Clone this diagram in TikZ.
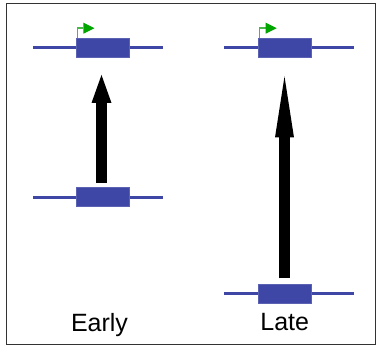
\documentclass[tikz,border=0pt]{standalone}
\usepackage{fontspec}
\setmainfont{Liberation Sans}
\usetikzlibrary{arrows.meta}
\definecolor{geneblue}{RGB}{62,70,166}
\definecolor{promgreen}{RGB}{0,165,0}
\definecolor{promline}{RGB}{70,185,70}
\begin{document}
\begin{tikzpicture}[x=1pt,y=-1pt,
  genebox/.style={draw=geneblue!85!white,fill=geneblue,line width=0.6pt,minimum width=53pt,minimum height=19pt,inner sep=0pt,outer sep=0pt},
  dna/.style={draw=geneblue,line width=2.6pt},
  bigarrow/.style={draw=black,line width=11pt},
  promoter/.style={draw=promline,line width=1.5pt,-{Triangle[length=11pt,width=11pt,line width=0pt,color=promgreen]}},
  label/.style={font=\fontsize{25}{30}\selectfont,anchor=base,inner sep=0pt}]
\useasboundingbox (0,0) rectangle (376,347);
\draw[line width=1.3pt,black!80] (6.5,3.8) rectangle (375.6,344.2);
% Early top gene
\coordinate (etl) at (33,47.7);
\coordinate (etr) at (163,47.7);
\draw[dna] (etl) -- (etr);
\node[genebox] (etg) at (102.4,47.7) {};
\draw[promoter] ([xshift=1.5pt]etg.north west) -- ++(0,-10) -- ++(17,0);
% Early bottom gene
\coordinate (ebl) at (33,197.3);
\coordinate (ebr) at (163,197.3);
\draw[dna] (ebl) -- (ebr);
\node[genebox] (ebg) at (102.4,197.3) {};
% Early arrow
\coordinate (eas) at (101.5,183);
\coordinate (eat) at (101.5,75);
\draw[bigarrow,-{Triangle[length=28pt,width=20pt,line width=0pt]}] (eas) -- (eat);
% Late top gene
\coordinate (ltl) at (224,47.7);
\coordinate (ltr) at (354,47.7);
\draw[dna] (ltl) -- (ltr);
\node[genebox] (ltg) at (284.7,47.7) {};
\draw[promoter] ([xshift=1.5pt]ltg.north west) -- ++(0,-10) -- ++(17,0);
% Late bottom gene
\coordinate (lbl) at (224,293.5);
\coordinate (lbr) at (354,293.5);
\draw[dna] (lbl) -- (lbr);
\node[genebox] (lbg) at (284.7,293.5) {};
% Late arrow
\coordinate (las) at (284.5,278.5);
\coordinate (lat) at (284.5,76.5);
\draw[bigarrow,-{Triangle[length=61pt,width=19pt,line width=0pt]}] (las) -- (lat);
% Labels
\node[label] (early) at (99.5,331.7) {Early};
\node[label] (late) at (284.7,330.7) {Late};
\end{tikzpicture}
\end{document}
